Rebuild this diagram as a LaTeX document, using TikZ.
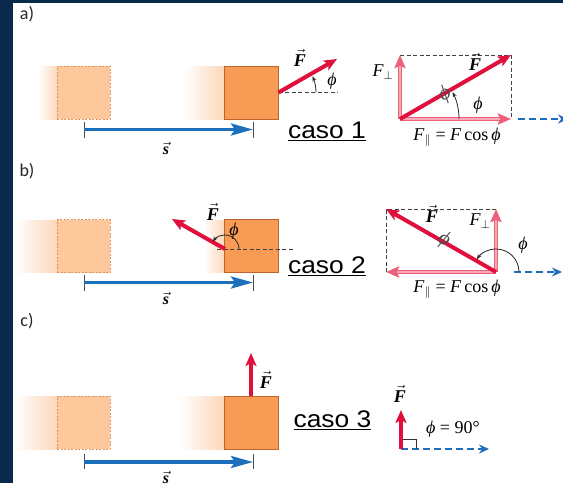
\documentclass[tikz,border=0pt]{standalone}
\usepackage{fontspec}
\setmainfont{Liberation Serif}
\newfontfamily\arialf{Liberation Sans}
\newfontfamily\calib{Carlito}
\usetikzlibrary{arrows.meta}
\definecolor{navy}{RGB}{10,42,75}
\definecolor{ghostfill}{RGB}{253,200,155}
\definecolor{ghostedge}{RGB}{225,150,95}
\definecolor{fadeend}{RGB}{253,215,185}
\definecolor{blkfill}{RGB}{247,155,85}
\definecolor{blkedge}{RGB}{190,100,45}
\definecolor{fred}{RGB}{225,15,60}
\definecolor{pinkc}{RGB}{238,95,120}
\definecolor{pinkl}{RGB}{248,170,185}
\definecolor{sblue}{RGB}{30,110,190}
\newcommand{\vF}{$\vec{\mbox{\textbf{\textit{F}}}}$}
\newcommand{\vs}{$\vec{\mbox{\textbf{\textit{s}}}}$}
\newcommand{\ph}{\textit{ϕ}}
\newcommand{\casotxt}[1]{\scalebox{1.1}[1]{\underline{caso #1}}}
\begin{document}
\begin{tikzpicture}[x=1pt,y=-1pt,
  ghost/.style={draw=ghostedge,fill=ghostfill,line width=0.8pt,dash pattern=on 2pt off 1.5pt,minimum width=53pt,minimum height=53pt,inner sep=0pt},
  blk/.style={draw=blkedge,fill=blkfill,line width=1pt,minimum width=54pt,minimum height=53pt,inner sep=0pt},
  force/.style={draw=fred,line width=4pt,-{Stealth[length=13pt,width=11pt,inset=3pt]}},
  comp/.style={draw=pinkc,line width=3.6pt,-{Stealth[length=13pt,width=11pt,inset=2pt,fill=pinkl]}},
  compin/.style={draw=pinkl,line width=1.2pt,shorten >=11pt,shorten <=2pt},
  disp/.style={draw=sblue,line width=3.4pt,-{Stealth[length=22pt,width=12pt,inset=4pt]}},
  bdash/.style={draw=sblue,line width=2.4pt,dash pattern=on 7pt off 4pt,-{Stealth[length=10pt,width=9pt]}},
  refdash/.style={draw=black!75,line width=0.8pt,dash pattern=on 4pt off 2.5pt},
  tickline/.style={draw=black!70,line width=0.8pt},
  anglearc/.style={draw=black!85,line width=0.8pt,-{Stealth[length=5pt,width=4pt]}},
  lbl/.style={font=\fontsize{18}{20}\selectfont,inner sep=0pt},
  mlbl/.style={font=\fontsize{18}{20}\selectfont,inner sep=0pt},
  slbl/.style={font=\fontsize{16}{18}\selectfont,inner sep=0pt},
  caso/.style={font=\arialf\fontsize{24}{28}\selectfont,inner sep=0pt},
  panel/.style={font=\calib\fontsize{18}{20}\selectfont,text=black!85,inner sep=0pt},
  phimark/.style={font=\fontsize{21}{22}\selectfont\itshape,text=black!70,inner sep=0pt}]
\useasboundingbox (0,0) rectangle (563,483);
\clip (0,0) rectangle (563,483);
\fill[white] (0,0) rectangle (563,483);
\fill[navy] (0,0) rectangle (13,483);
\fill[navy] (0,0) rectangle (563,3);

% ---------------- panel a ----------------
\node[panel] (la) at (27,14) {a)};
\shade[left color=white,right color=fadeend] (38,66) rectangle (57.5,119);
\shade[left color=white,right color=fadeend] (184,66) rectangle (224,119);
\node[ghost] (ga) at (83.5,92.5) {};
\node[blk] (ba) at (251,92.5) {};
\coordinate (fa) at (337,59);
\coordinate (da) at (338,92.5);
\draw[refdash] (ba.east) -- (da);
\draw[force] (ba.east) -- (fa);
\draw[anglearc] (316,92.5) arc[start angle=0,end angle=-25,radius=38];
\node[lbl] (Fa) at (300,58) {\vF};
\node[mlbl] (pha) at (332,81) {\ph};
\coordinate (sa1) at (84,129.5); \coordinate (sa2) at (253,129.5);
\draw[tickline] (84,122) -- (84,138); \draw[tickline] (253,122) -- (253,138);
\draw[disp] (sa1) -- (sa2);
\node[slbl] (sla) at (166,148) {\vs};
\node[caso] (ca) at (327,131) {\casotxt{1}};
% right diagram a
\coordinate (oa) at (400,119); \coordinate (pa) at (400,55);
\coordinate (qa) at (511,119); \coordinate (ra) at (511,55);
\coordinate (ua) at (518,119); \coordinate (va) at (568,119);
\draw[refdash] (pa) -- (ra) -- (qa);
\draw[bdash] (ua) -- (va);
\draw[comp] (oa) -- (pa); \draw[compin] (oa) -- (pa);
\draw[comp] (oa) -- (qa); \draw[compin] (oa) -- (qa);
\draw[force] (oa) -- (ra);
\draw[anglearc] (459,119) arc[start angle=0,end angle=-27,radius=59];
\node[phimark,rotate=30] (ma) at (445,94) {ϕ};
\node[mlbl] (Fra) at (475,62) {\vF};
\node[mlbl] (Fpa) at (383,72) {\textit{F}$_\perp$};
\node[mlbl] (pra) at (478,105) {\ph};
\node[mlbl] (Fla) at (457,137) {\textit{F}$_\parallel$ = \textit{F}\,cos\,\ph};

% ---------------- panel b ----------------
\node[panel] (lb) at (27,171) {b)};
\shade[left color=white,right color=fadeend] (14,220) rectangle (57.5,272);
\shade[left color=white,right color=fadeend] (204,220) rectangle (224,272);
\node[ghost] (gb) at (83.5,246) {};
\node[blk] (bb) at (251,246) {};
\coordinate (tb) at (225,249);
\coordinate (fb) at (172,219);
\coordinate (db1) at (217,249); \coordinate (db2) at (294,249);
\draw[refdash] (db1) -- (db2);
\draw[force] (tb) -- (fb);
\draw[anglearc] (239,249) arc[start angle=0,end angle=-148,radius=14];
\node[lbl] (Fb) at (213,212) {\vF};
\node[mlbl] (phb) at (234,231) {\ph};
\coordinate (sb1) at (84,282.5); \coordinate (sb2) at (253,282.5);
\draw[tickline] (84,275) -- (84,291); \draw[tickline] (253,275) -- (253,291);
\draw[disp] (sb1) -- (sb2);
\node[slbl] (slb) at (166,298) {\vs};
\node[caso] (cb) at (327,266) {\casotxt{2}};
% right diagram b
\coordinate (ob) at (496,272); \coordinate (pb) at (496,209);
\coordinate (qb) at (386,272); \coordinate (rb) at (386,209);
\coordinate (ub) at (514,272); \coordinate (vb) at (562,272);
\draw[refdash] (pb) -- (rb) -- (qb);
\draw[bdash] (ub) -- (vb);
\draw[comp] (ob) -- (pb); \draw[compin] (ob) -- (pb);
\draw[comp] (ob) -- (qb); \draw[compin] (ob) -- (qb);
\draw[force] (ob) -- (rb);
\draw[anglearc] (519,272) arc[start angle=0,end angle=-146,radius=23];
\node[phimark,rotate=-30] (mb) at (444,240) {ϕ};
\node[mlbl] (Frb) at (432,214) {\vF};
\node[mlbl] (Fpb) at (480,221) {\textit{F}$_\perp$};
\node[mlbl] (prb) at (523,245) {\ph};
\node[mlbl] (Flb) at (457,289) {\textit{F}$_\parallel$ = \textit{F}\,cos\,\ph};

% ---------------- panel c ----------------
\node[panel] (lc) at (27,321) {c)};
\shade[left color=white,right color=fadeend] (14,396) rectangle (57.5,449);
\shade[left color=white,right color=fadeend] (179,396) rectangle (224,449);
\node[ghost] (gc) at (83.5,422.5) {};
\node[blk] (bc) at (251,422.5) {};
\coordinate (fc) at (251,353);
\draw[force] (bc.north) -- (fc);
\node[lbl] (Fc) at (266,380) {\vF};
\coordinate (sc1) at (84,462); \coordinate (sc2) at (253,462);
\draw[tickline] (84,454) -- (84,469); \draw[tickline] (253,454) -- (253,469);
\draw[disp] (sc1) -- (sc2);
\node[slbl] (slc) at (166,477) {\vs};
\node[caso] (cc) at (332.5,420) {\casotxt{3}};
% right diagram c
\coordinate (oc) at (401,449); \coordinate (pc) at (401,410);
\coordinate (vc) at (489,449);
\draw[bdash] (oc) -- (vc);
\draw[black!80,line width=0.8pt] (401,439) -- (416,439) -- (416,449);
\draw[force] (oc) -- (pc);
\node[mlbl] (Frc) at (400,394) {\vF};
\node[mlbl] (prc) at (453,429) {\ph{} = 90°};
\end{tikzpicture}
\end{document}
